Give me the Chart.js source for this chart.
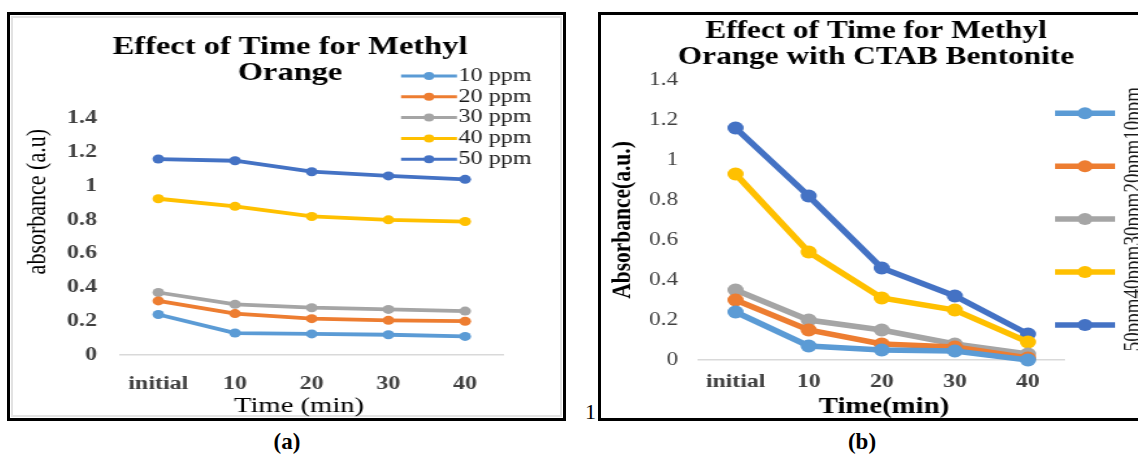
<!DOCTYPE html>
<html>
<head>
<meta charset="utf-8">
<script src="https://cdn.jsdelivr.net/npm/chart.js@4.4.1/dist/chart.umd.min.js"></script>
<style>
  body { margin: 0; background: #fff; width: 1138px; height: 458px; overflow: hidden; position: relative;
         font-family: "Liberation Serif", "Times New Roman", serif; }
  .frame { position: absolute; border: 3px solid #000; box-sizing: border-box; }
  #frameA { left: 7px; top: 12px; width: 559px; height: 409px; }
  #frameA .inner { position: absolute; left: 1px; top: 1px; right: 1px; bottom: 1px; border: 2px solid #e2e2e2; }
  #frameB { left: 598px; top: 12px; width: 560px; height: 409px; border-right: none; }
  .chart { position: absolute; transform-origin: 0 0; }
  #wrapA { left: 10px; top: 15px; transform: scaleX(1.3); }
  #wrapB { left: 600px; top: 15px; transform: scaleX(1.25); }
  .note { position: absolute; color: #000; line-height: 1; }
  #pageNo { left: 585px; top: 401px; font-size: 22px; }
  .cap { font-weight: bold; font-size: 23px; transform: translateX(-50%); }
  #capA { left: 287px; top: 430px; }
  #capB { left: 862px; top: 430px; }
</style>
</head>
<body>
<div class="frame" id="frameA"><div class="inner"></div></div>
<div class="frame" id="frameB"></div>
<div class="chart" id="wrapA"><canvas id="chartA" width="426" height="403"></canvas></div>
<div class="chart" id="wrapB"><canvas id="chartB" width="430" height="403"></canvas></div>
<div class="note" id="pageNo">1</div>
<div class="note cap" id="capA">(a)</div>
<div class="note cap" id="capB">(b)</div>

<script>
const timeLabels = ['initial', '10', '20', '30', '40'];
const yTickValues = [0, 0.2, 0.4, 0.6, 0.8, 1, 1.2, 1.4];

// absorbance, methyl orange alone
const namesA = ['10 ppm', '20 ppm', '30 ppm', '40 ppm', '50 ppm'];
const moA10 = [0.24, 0.13, 0.125, 0.12, 0.11];
const moA20 = [0.32, 0.245, 0.215, 0.205, 0.2];
const moA30 = [0.37, 0.3, 0.28, 0.27, 0.26];
const moA40 = [0.925, 0.88, 0.82, 0.8, 0.79];
const moA50 = [1.16, 1.15, 1.085, 1.06, 1.04];

// absorbance, methyl orange with CTAB bentonite
const namesB = ['10ppm', '20ppm', '30ppm', '40ppm', '50ppm'];
const moB10 = [0.24, 0.07, 0.05, 0.045, 0.0];
const moB20 = [0.3, 0.15, 0.08, 0.065, 0.01];
const moB30 = [0.35, 0.2, 0.15, 0.08, 0.03];
const moB40 = [0.93, 0.54, 0.31, 0.25, 0.09];
const moB50 = [1.16, 0.82, 0.46, 0.32, 0.13];

const colors = ['#5B9BD5', '#ED7D31', '#A5A5A5', '#FFC000', '#4472C4'];
const serif = "'Liberation Serif', 'Times New Roman', serif";

// titles, axis titles and legend are drawn here so they can sit where Excel put them
const decor = {
  id: 'decor',
  afterDraw(chart, args, o) {
    const ctx = chart.ctx;
    ctx.save();
    ctx.fillStyle = '#000';
    ctx.textAlign = 'center';
    ctx.textBaseline = 'middle';

    ctx.font = o.titleFont;
    o.title.forEach((line, i) => ctx.fillText(line, o.titleX, o.titleY + i * o.titleGap));

    ctx.font = o.xTitleFont;
    ctx.fillText(o.xTitle, o.xTitleX, o.xTitleY);

    ctx.save();
    ctx.translate(o.yTitleX, o.yTitleY);
    ctx.rotate(-Math.PI / 2);
    ctx.font = o.yTitleFont;
    ctx.fillText(o.yTitle, 0, 0);
    ctx.restore();

    // legend
    chart.data.datasets.forEach((ds, i) => {
      const y = o.legendY + i * o.legendGap;
      ctx.strokeStyle = ds.borderColor;
      ctx.lineWidth = o.legendLine;
      ctx.beginPath();
      ctx.moveTo(o.legendX0, y);
      ctx.lineTo(o.legendX1, y);
      ctx.stroke();
      ctx.fillStyle = ds.borderColor;
      ctx.beginPath();
      ctx.arc((o.legendX0 + o.legendX1) / 2, y, o.legendDot, 0, Math.PI * 2);
      ctx.fill();

      ctx.fillStyle = '#1a1a1a';
      ctx.font = o.legendFont;
      if (o.legendRotate) {
        ctx.save();
        ctx.translate(o.legendTextX, y);
        ctx.rotate(-Math.PI / 2);
        ctx.textAlign = 'center';
        ctx.textBaseline = 'alphabetic';
        ctx.fillText(ds.label, 0, 0);
        ctx.restore();
      } else {
        ctx.textAlign = 'left';
        ctx.fillText(ds.label, o.legendTextX, y);
        ctx.textAlign = 'center';
      }
    });
    ctx.restore();
  }
};

function buildDatasets(names, series, lineW, dotR) {
  return series.map((vals, i) => ({
    label: names[i],
    data: vals,
    borderColor: colors[i],
    backgroundColor: colors[i],
    pointBackgroundColor: colors[i],
    pointBorderWidth: 0,
    borderWidth: lineW,
    pointRadius: dotR,
    tension: 0,
    clip: false
  }));
}

function buildScales(cfg) {
  return {
    x: {
      offset: true,
      grid: { display: false, drawTicks: false },
      border: { display: true, color: '#d9d9d9', width: 1.5 },
      ticks: { padding: cfg.xPad, color: '#404040', font: { family: serif, size: cfg.xTickSize, weight: 'bold' } },
      afterFit: s => { s.height = cfg.xHeight; }
    },
    y: {
      min: 0,
      max: 1.4,
      grid: { display: false, drawTicks: false },
      border: { display: false },
      afterBuildTicks: s => { s.ticks = yTickValues.map(v => ({ value: v })); },
      ticks: {
        padding: cfg.yPad,
        color: '#404040',
        font: { family: serif, size: cfg.yTickSize, weight: cfg.yTickWeight },
        callback: v => String(v)
      },
      afterFit: s => { s.width = cfg.yWidth; }
    }
  };
}

new Chart(document.getElementById('chartA'), {
  type: 'line',
  data: {
    labels: timeLabels,
    datasets: buildDatasets(namesA, [moA10, moA20, moA30, moA40, moA50], 3.8, 4.5)
  },
  options: {
    responsive: false,
    animation: false,
    devicePixelRatio: 1,
    layout: { padding: { left: 0, top: 103.5, right: 46.4, bottom: 0 } },
    scales: buildScales({ xPad: 18.5, xTickSize: 18.5, xHeight: 63, yPad: 17.7, yTickSize: 18.5, yTickWeight: 'bold', yWidth: 84.6 }),
    plugins: {
      legend: { display: false },
      tooltip: { enabled: false },
      decor: {
        title: ['Effect of Time for Methyl', 'Orange'],
        titleFont: 'bold 25px ' + serif, titleX: 215.4, titleY: 33, titleGap: 26,
        xTitle: 'Time (min)', xTitleFont: '22px ' + serif, xTitleX: 222.3, xTitleY: 391,
        yTitle: 'absorbance (a.u)', yTitleFont: '22px ' + serif, yTitleX: 21.2, yTitleY: 186.7,
        legendY: 61, legendGap: 20.8, legendX0: 300.8, legendX1: 343.8, legendLine: 3, legendDot: 4,
        legendTextX: 345, legendFont: '18.5px ' + serif, legendRotate: false
      }
    }
  },
  plugins: [decor]
});

new Chart(document.getElementById('chartB'), {
  type: 'line',
  data: {
    labels: timeLabels,
    datasets: buildDatasets(namesB, [moB10, moB20, moB30, moB40, moB50], 5.5, 6.5)
  },
  options: {
    responsive: false,
    animation: false,
    devicePixelRatio: 1,
    layout: { padding: { left: 0, top: 65, right: 58.4, bottom: 0 } },
    scales: buildScales({ xPad: 10.3, xTickSize: 19, xHeight: 58, yPad: 16.8, yTickSize: 18.5, yTickWeight: 'normal', yWidth: 79.2 }),
    plugins: {
      legend: { display: false },
      tooltip: { enabled: false },
      decor: {
        title: ['Effect of Time for Methyl', 'Orange with CTAB Bentonite'],
        titleFont: 'bold 25px ' + serif, titleX: 220.8, titleY: 17, titleGap: 26,
        xTitle: 'Time(min)', xTitleFont: 'bold 23px ' + serif, xTitleX: 227.2, xTitleY: 392,
        yTitle: 'Absorbance(a.u.)', yTitleFont: 'bold 21.5px ' + serif, yTitleX: 18, yTitleY: 205,
        legendY: 98.3, legendGap: 52.9, legendX0: 364, legendX1: 412, legendLine: 5.5, legendDot: 6,
        legendTextX: 432, legendFont: '19px ' + serif, legendRotate: true
      }
    }
  },
  plugins: [decor]
});
</script>
</body>
</html>
